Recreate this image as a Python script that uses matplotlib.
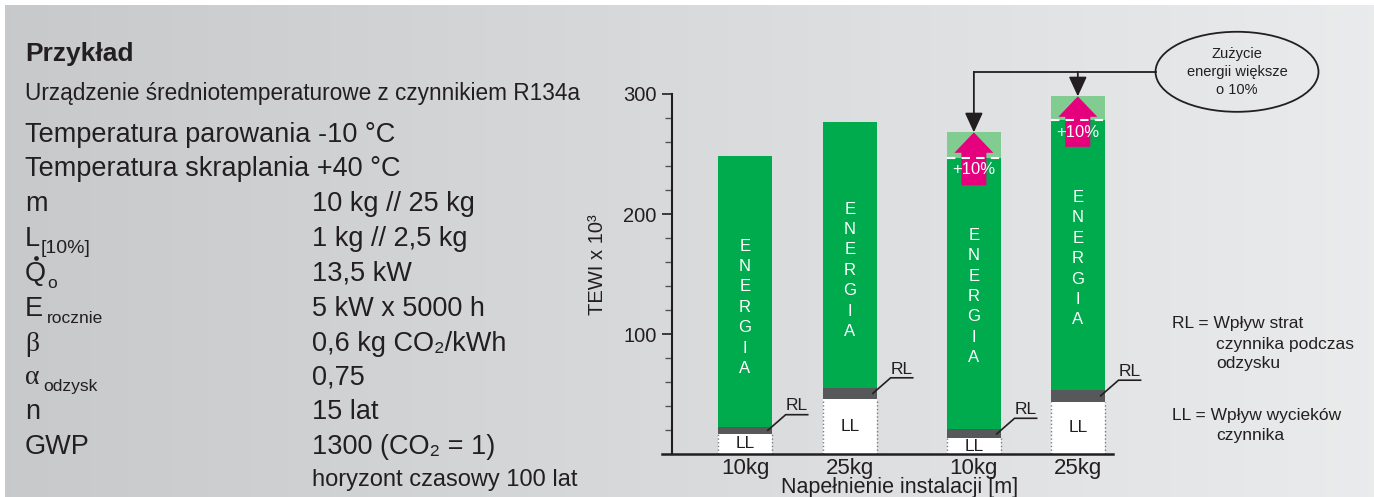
import numpy as np
import matplotlib.pyplot as plt
from matplotlib.patches import Ellipse, FancyArrow

plt.rcParams['font.family'] = ['Liberation Sans', 'DejaVu Sans']

# chart data (TEWI x 10^3)
sizes = ['10kg', '25kg', '10kg', '25kg']
x_pos = np.array([0, 1, 2.18, 3.17])
ll = np.array([17, 46, 13, 43.5])          # leakage
rl = np.array([5.5, 9, 7.5, 10])           # recovery losses
energy = np.array([225.5, 222, 226.5, 224.5])
extra = np.array([0, 0, 21, 20])           # +10% energy

# parameter table on the left
par_names = ['m', 'L', 'Q', 'E', 'β', 'α', 'n', 'GWP']
par_subs = ['', '[10%]', 'o', 'rocznie', '', 'odzysk', '', '']
par_values = ['10 kg // 25 kg', '1 kg // 2,5 kg', '13,5 kW', '5 kW x 5000 h',
              '0,6 kg CO₂/kWh', '0,75', '15 lat', '1300 (CO₂ = 1)']

TXT = '#231f20'
GREEN = '#00ab4e'
LGREEN = '#80cc91'
DARK = '#57585a'
MAGENTA = '#e5007d'

fig = plt.figure(figsize=(13.74, 4.97), dpi=100)

# background with gradient, pixel coordinates
bg = fig.add_axes([0, 0, 1, 1], zorder=0)
bg.set_xlim(0, 1374)
bg.set_ylim(497, 0)
bg.axis('off')
c0 = np.array([0.784, 0.788, 0.796])
c1 = np.array([0.918, 0.922, 0.925])
t = np.linspace(0, 1, 256)[:, None]
grad = (c0 + (c1 - c0) * t)[None, :, :]
bg.imshow(grad, extent=(5, 1374, 497, 5), aspect='auto')

r = fig.canvas.get_renderer()


def put(x, y, s, size, **kw):
    kw.setdefault('color', TXT)
    return bg.text(x, y, s, fontsize=size, va='baseline', **kw)


put(25, 61, 'Przykład', 19, fontweight='bold')
put(25, 100, 'Urządzenie średniotemperaturowe z czynnikiem R134a', 16.3)
put(25, 142, 'Temperatura parowania -10 °C', 19.5)
put(25, 176, 'Temperatura skraplania +40 °C', 19.5)

rows = [211, 246, 281, 316, 351, 384, 419, 454]
for name, sub, val, base in zip(par_names, par_subs, par_values, rows):
    if name in 'βα':
        lab = put(25, base, name, 20, family='Liberation Serif')
    else:
        lab = put(25, base, name, 19.5)
    if sub:
        w = lab.get_window_extent(r)
        gap = 1 if sub in ('[10%]', 'o') else 4
        put(w.x1 + gap, base + 7, sub, 12.5 if sub != '[10%]' else 14)
    if name == 'Q':
        w = lab.get_window_extent(r)
        bg.plot((w.x0 + w.x1) / 2, base - 23, 'o', ms=2.4, color=TXT)
    put(312, base, val, 19.5)
put(312, 486, 'horyzont czasowy 100 lat', 17)

# legend text on the right
put(1172, 328, 'RL = Wpływ strat', 12.5)
put(1216, 349, 'czynnika podczas', 12.5)
put(1216, 368, 'odzysku', 12.5)
put(1172, 420, 'LL = Wpływ wycieków', 12.5)
put(1216, 440, 'czynnika', 12.5)

# chart
ax = fig.add_axes([672 / 1374, 43 / 497, 441 / 1374, 360 / 497], zorder=1)
ax.patch.set_visible(False)
ax.set_xlim(-0.695, 3.505)
ax.set_ylim(0, 300)
W = 0.515

ax.bar(x_pos, ll, width=W, color='white', zorder=2)
ax.bar(x_pos, rl, width=W, bottom=ll, color=DARK, zorder=2)
ax.bar(x_pos, energy, width=W, bottom=ll + rl, color=GREEN, zorder=2)
ax.bar(x_pos, extra, width=W, bottom=ll + rl + energy, color=LGREEN, zorder=2)

for x, l in zip(x_pos, ll):
    for side in (-1, 1):
        ax.plot([x + side * W / 2] * 2, [0, l], color='#7a7a7a', ls=':', lw=1, zorder=3)
    ax.text(x, l / 2, 'LL', ha='center', va='center', fontsize=12.5, color=TXT, zorder=4)

# RL leaders
for x, l, rr in zip(x_pos, ll, rl):
    x0, y0 = x + W / 2 - 0.04, l + rr / 2
    x1, y1 = x0 + 0.17, y0 + 13
    ax.plot([x0, x1, x1 + 0.21], [y0, y1, y1], color=TXT, lw=1.2, zorder=4, clip_on=False)
    ax.text(x1, y1 + 1, 'RL', ha='left', va='bottom', fontsize=12.5, color=TXT, zorder=4)

# ENERGIA letters
for x, base, e, ex in zip(x_pos, ll + rl, energy, extra):
    yc = base + (e + ex) / 2 - 13
    for k, ch in enumerate('ENERGIA'):
        ax.text(x, yc + (3 - k) * 17, ch, ha='center', va='center', fontsize=12,
                color='white', zorder=4)

# +10% arrows
for x, base, e, ex in zip(x_pos, ll + rl, energy, extra):
    if ex <= 0:
        continue
    top = base + e + ex
    length = 2.1 * ex
    ax.add_patch(FancyArrow(x, top - length, 0, length, width=0.238, head_width=0.371,
                            head_length=17, length_includes_head=True,
                            color=MAGENTA, lw=0, zorder=5))
    ax.plot([x - W / 2, x + W / 2], [base + e] * 2, color='white', lw=1.5,
            ls=(0, (4, 3)), zorder=6)
    ax.text(x, base + e - 10, '+10%', ha='center', va='center', fontsize=12,
            color='white', zorder=7)

# callout ellipse with connectors
ell_x, ell_y, ell_w, ell_h = 4.686, 318.5, 1.552, 66.7
ax.add_patch(Ellipse((ell_x, ell_y), ell_w, ell_h, facecolor='none', edgecolor=TXT,
                     lw=1.3, clip_on=False, zorder=5))
for k, s in enumerate(['Zużycie', 'energii większe', 'o 10%']):
    ax.text(ell_x, ell_y + 15 - k * 15, s, ha='center', va='center', fontsize=10.5,
            color=TXT, zorder=6, clip_on=False)
tops = ll + rl + energy + extra
ax.plot([x_pos[2], ell_x - ell_w / 2], [ell_y, ell_y], color=TXT, lw=1.3,
        clip_on=False, zorder=5)
for i in (2, 3):
    ax.annotate('', xy=(x_pos[i], tops[i]), xytext=(x_pos[i], ell_y),
                arrowprops=dict(arrowstyle='-|>,head_length=1.2,head_width=0.55',
                                mutation_scale=10, color=TXT, lw=1.3,
                                shrinkA=0, shrinkB=0),
                annotation_clip=False, zorder=6)

# axes styling
for s in ('top', 'right', 'bottom'):
    ax.spines[s].set_visible(False)
ax.spines['left'].set_linewidth(1.5)
ax.spines['left'].set_color(TXT)
ax.plot([-0.695 - 10 / 105, 3.505], [0, 0], color=TXT, lw=1.8, clip_on=False, zorder=3)
ax.set_yticks([100, 200, 300])
ax.set_yticks(np.arange(20, 300, 20), minor=True)
ax.tick_params(axis='y', which='major', length=7, width=1.2, labelsize=14.5,
               colors=TXT, pad=4)
ax.tick_params(axis='y', which='minor', length=5, width=1.0, colors='#555555')
ax.set_xticks(x_pos)
ax.set_xticklabels(sizes)
ax.tick_params(axis='x', length=0, labelsize=16, colors=TXT, pad=3)
ax.text(-0.168, 0.525, 'TEWI x 10³', transform=ax.transAxes, rotation=90,
        ha='center', va='center', fontsize=14.5, color=TXT)
ax.text(0.517, -0.092, 'Napełnienie instalacji [m]', transform=ax.transAxes,
        ha='center', va='center', fontsize=15.5, color=TXT)

fig.savefig('out.png', dpi=100)
